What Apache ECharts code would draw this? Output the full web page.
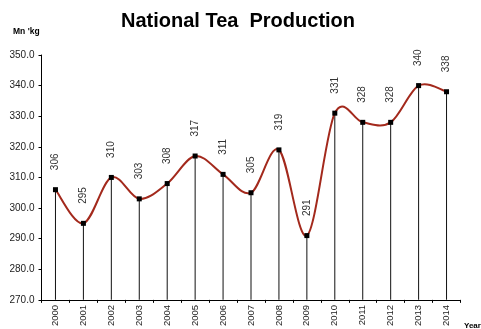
<!DOCTYPE html>
<html>
<head>
<meta charset="utf-8">
<script src="https://cdn.jsdelivr.net/npm/echarts@6/dist/echarts.min.js"></script>
<style>
  html, body { margin: 0; padding: 0; background: #fff; }
  #chart { width: 481px; height: 329px; }
</style>
</head>
<body>
<div id="chart"></div>
<script>
// Annual tea production, million kg
const years = ['2000','2001','2002','2003','2004','2005','2006','2007','2008','2009','2010','2011','2012','2013','2014'];
const production = [306, 295, 310, 303, 308, 317, 311, 305, 319, 291, 331, 328, 328, 340, 338];
const yTicks = { min: 270, max: 350, step: 10 };

const FONT = 'Liberation Sans, Arial, sans-serif';

// Smooth Catmull-Rom style segment between point i and i+1 (tension 1/6),
// with points mapped through the chart's axes.
function renderSegment(params, api) {
  const i = params.dataIndex;
  const n = production.length;
  if (i >= n - 1) return null;
  const p = k => api.coord([Math.max(0, Math.min(n - 1, k)), production[Math.max(0, Math.min(n - 1, k))]]);
  const p0 = p(i - 1), p1 = p(i), p2 = p(i + 1), p3 = p(i + 2);
  const t = 1 / 6;
  return {
    type: 'bezierCurve',
    shape: {
      x1: p1[0], y1: p1[1],
      x2: p2[0], y2: p2[1],
      cpx1: p1[0] + (p2[0] - p0[0]) * t, cpy1: p1[1] + (p2[1] - p0[1]) * t,
      cpx2: p2[0] - (p3[0] - p1[0]) * t, cpy2: p2[1] - (p3[1] - p1[1]) * t
    },
    style: { stroke: '#A3291C', lineWidth: 2, fill: null }
  };
}

const chart = echarts.init(document.getElementById('chart'));
chart.setOption({
  animation: false,
  backgroundColor: '#ffffff',
  title: {
    text: 'National Tea  Production',
    left: 233, top: 6, textAlign: 'center',
    textStyle: { fontFamily: FONT, fontWeight: 'bold', fontSize: 20, color: '#000' }
  },
  graphic: [
    { type: 'text', left: 13, top: 27, style: { text: "Mn 'kg", font: 'bold 8.5px ' + FONT, fill: '#000' } },
    { type: 'text', left: 464, top: 322, style: { text: 'Year', font: 'bold 8px ' + FONT, fill: '#000' } }
  ],
  grid: { left: 41.5, right: 20.5, top: 55, bottom: 27.5 },
  xAxis: {
    type: 'category',
    data: years,
    boundaryGap: true,
    axisLine: { lineStyle: { color: '#000', width: 1 } },
    axisTick: { show: true, alignWithLabel: false, length: 3, inside: false, lineStyle: { color: '#000' } },
    axisLabel: { rotate: 90, fontSize: 9.5, color: '#222', fontFamily: FONT, margin: 5, interval: 0 }
  },
  yAxis: {
    type: 'value',
    min: yTicks.min, max: yTicks.max, interval: yTicks.step,
    splitLine: { show: false },
    axisLine: { show: true, lineStyle: { color: '#000', width: 1 } },
    axisTick: { show: true, length: 3, lineStyle: { color: '#000' } },
    axisLabel: { fontSize: 10, color: '#222', fontFamily: FONT, margin: 7,
      formatter: v => v.toFixed(1) }
  },
  series: [
    {
      // vertical drop lines from each point to the axis
      type: 'bar',
      data: production,
      barWidth: 1,
      itemStyle: { color: '#111' },
      silent: true,
      z: 1
    },
    {
      type: 'custom',
      data: production.map((v, i) => [i, v]),
      renderItem: renderSegment,
      silent: true,
      z: 2
    },
    {
      type: 'line',
      data: production,
      symbol: 'rect',
      symbolSize: 5,
      itemStyle: { color: '#000' },
      lineStyle: { opacity: 0 },
      label: {
        show: true, position: 'top', rotate: 90, distance: 17,
        align: 'left', verticalAlign: 'middle',
        fontSize: 10, color: '#333', fontFamily: FONT
      },
      z: 3
    }
  ]
});
</script>
</body>
</html>
